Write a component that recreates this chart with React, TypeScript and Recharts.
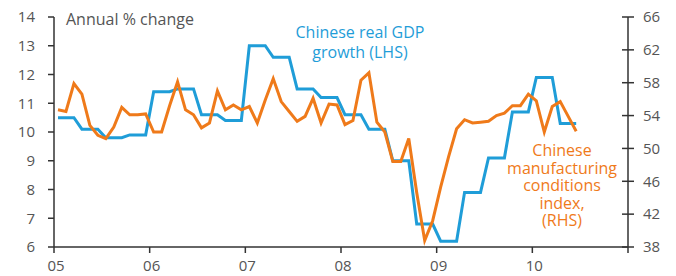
import React from "react";
import { LineChart, Line, XAxis, YAxis } from "recharts";

// quarterly real GDP growth, % y/y (LHS), 2005 Q1 .. 2010 Q2
const gdpGrowth = [
  10.5, 10.1, 9.8, 9.9,
  11.4, 11.5, 10.6, 10.4,
  13.0, 12.6, 11.5, 11.2,
  10.6, 10.1, 9.0, 6.8,
  6.2, 7.9, 9.1, 10.7,
  11.9, 10.3,
];

// monthly manufacturing conditions index (RHS), Jan 2005 .. Jun 2010
const pmi = [
  54.7, 54.5, 57.9, 56.6, 52.8, 51.6, 51.2, 52.6, 55.0, 54.1, 54.1, 54.2,
  52.0, 52.0, 55.2, 58.1, 54.7, 54.1, 52.5, 53.1, 57.0, 54.7, 55.3, 54.7,
  55.1, 53.1, 55.9, 58.5, 55.7, 54.5, 53.3, 53.9, 56.1, 53.1, 55.4, 55.3,
  52.9, 53.4, 58.3, 59.2, 53.2, 52.0, 48.4, 48.4, 51.2, 44.6, 38.8, 41.2,
  45.3, 49.0, 52.4, 53.5, 53.1, 53.2, 53.3, 54.0, 54.3, 55.2, 55.2, 56.6,
  55.8, 52.0, 55.1, 55.7, 53.9, 52.1,
];

const yearLabels = ["05", "06", "07", "08", "09", "10"];
const leftTicks = [6, 7, 8, 9, 10, 11, 12, 13, 14];
const rightTicks = [38, 42, 46, 50, 54, 58, 62, 66];

// one row per month, x = months since Jan 2005 (mid-month)
const data = pmi.map((v, i) => ({
  t: i + 0.5,
  pmi: v,
  gdp: gdpGrowth[Math.floor(i / 3)],
}));

const BLUE = "#1f9dd8";
const ORANGE = "#ef7a1a";
const AXIS = "#333";
const TEXT = "#555";
const FONT = "'Open Sans', sans-serif";

const tickStyle = { fill: TEXT, fontSize: 15, fontFamily: FONT };

// right axis ticks cross the axis line: draw the inner half here
const RightTick = (props: any) => {
  const { x, y, payload } = props;
  const axisX = x - 15;
  return (
    <g>
      <line x1={axisX - 6} x2={axisX} y1={y} y2={y} stroke={AXIS} strokeWidth={1.5} />
      <text x={x} y={y} dy="0.35em" textAnchor="start" {...tickStyle}>
        {payload.value}
      </text>
    </g>
  );
};

const YearTick = (props: any) => {
  const { x, y, payload } = props;
  const label = yearLabels[Math.round(payload.value / 12)] ?? "";
  return (
    <text x={x + 2} y={y} dy="0.71em" textAnchor="middle" {...tickStyle}>
      {label}
    </text>
  );
};

const App = () => {
  return (
    <div style={{ position: "absolute", left: 0, top: 0, width: 676, height: 276 }}>
      <LineChart
        width={676}
        height={276}
        data={data}
        margin={{ top: 17, right: 0, bottom: 0, left: 0 }}
        style={{ fontFamily: FONT }}
      >
        <XAxis
          dataKey="t"
          type="number"
          domain={[0, 72]}
          ticks={[0, 12, 24, 36, 48, 60, 72]}
          height={29}
          tickSize={6}
          tickMargin={7}
          tick={<YearTick />}
          axisLine={{ stroke: AXIS, strokeWidth: 1.5 }}
          tickLine={{ stroke: AXIS, strokeWidth: 1.5 }}
        />
        <YAxis
          yAxisId="left"
          orientation="left"
          width={54}
          domain={[6, 14]}
          ticks={leftTicks}
          tickSize={6}
          tickMargin={13}
          tick={tickStyle}
          axisLine={{ stroke: AXIS, strokeWidth: 1.5 }}
          tickLine={{ stroke: AXIS, strokeWidth: 1.5 }}
        />
        <YAxis
          yAxisId="right"
          orientation="right"
          width={48}
          domain={[38, 66]}
          ticks={rightTicks}
          tickSize={6}
          tickMargin={9}
          tick={<RightTick />}
          axisLine={{ stroke: AXIS, strokeWidth: 1.5 }}
          tickLine={{ stroke: AXIS, strokeWidth: 1.5 }}
        />
        <Line
          yAxisId="left"
          type="linear"
          dataKey="gdp"
          stroke={BLUE}
          strokeWidth={3}
          dot={false}
          isAnimationActive={false}
        />
        <Line
          yAxisId="right"
          type="linear"
          dataKey="pmi"
          stroke={ORANGE}
          strokeWidth={3}
          dot={false}
          isAnimationActive={false}
        />
      </LineChart>
      <svg
        width={676}
        height={276}
        style={{ position: "absolute", left: 0, top: 0, pointerEvents: "none" }}
        fontFamily={FONT}
        fontSize={16}
      >
        <text x={66} y={25} fill={TEXT}>Annual % change</text>
        <text textAnchor="middle" fill={BLUE}>
          <tspan x={360} y={38}>Chinese real GDP</tspan>
          <tspan x={360} y={58}>growth (LHS)</tspan>
        </text>
        <text textAnchor="middle" fill={ORANGE}>
          <tspan x={562} y={156}>Chinese</tspan>
          <tspan x={562} y={173.5}>manufacturing</tspan>
          <tspan x={562} y={191}>conditions</tspan>
          <tspan x={562} y={208.5}>index,</tspan>
          <tspan x={562} y={226}>(RHS)</tspan>
        </text>
      </svg>
    </div>
  );
};

export default App;
